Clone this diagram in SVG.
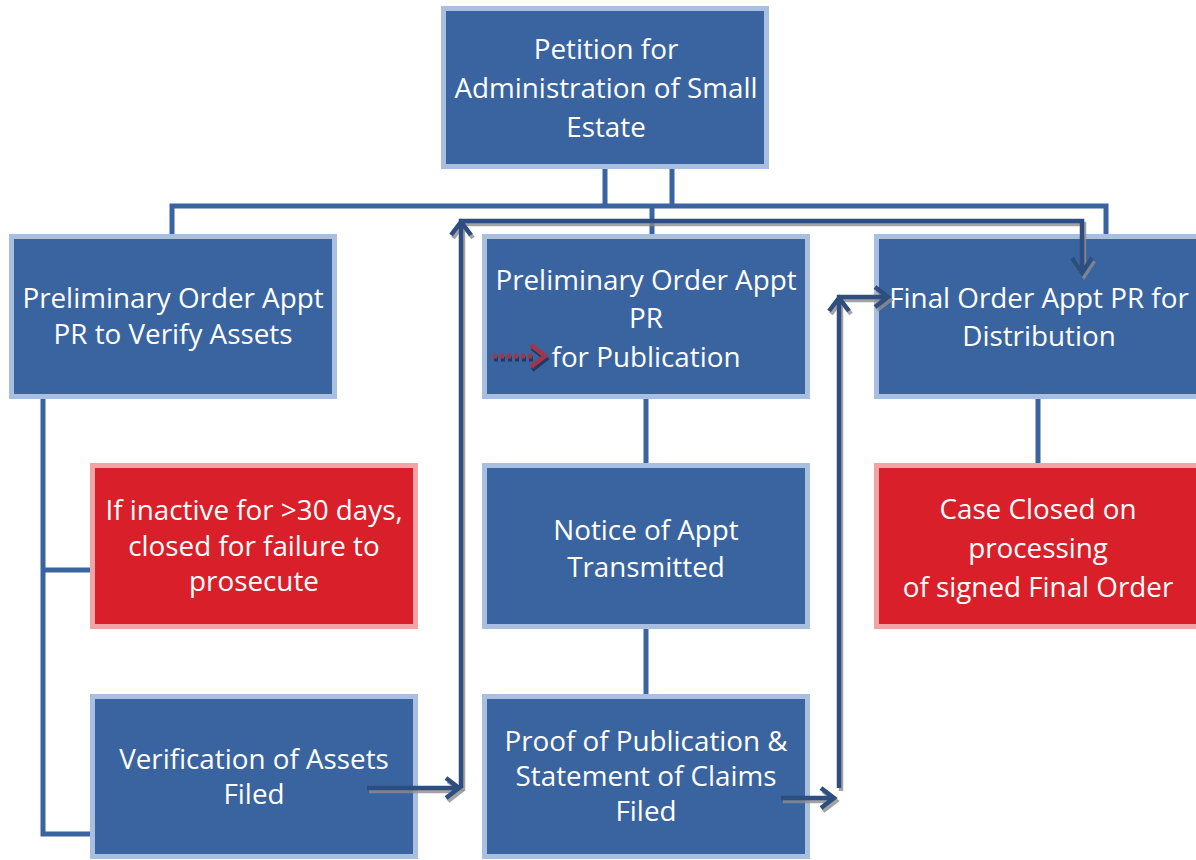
<svg xmlns="http://www.w3.org/2000/svg" width="1196" height="860" viewBox="0 0 1196 860">
<defs>
<style>
.b{fill:#3A64A0;stroke:#A8BFE0;stroke-width:5}
.r{fill:#D91F2A;stroke:#F2A3A6;stroke-width:5}
.t{font-family:"Open Sans",Lato,"Liberation Sans",sans-serif;font-size:27.8px;fill:#fff;text-anchor:middle}
.c{fill:none;stroke:#3A64A0;stroke-width:5}
.a{fill:none;stroke:#2E4E80;stroke-width:4.5}
.s{fill:none;stroke:#8C8C8C;stroke-width:4.5;opacity:0.8}
</style>
</defs>
<rect width="1196" height="860" fill="#fff"/>
<g id="connectors">
<path class="c" d="M605 168V206M672 168V206M172 234V206H1106V234M652 206V234"/>
<path class="c" d="M43 399V834H90M43 570H90"/>
<path class="c" d="M646 399V463M646 629V694M1038 399V463"/>
</g>
<g id="n1"><rect class="b" x="443.5" y="8.5" width="323" height="158"/>
<text class="t" x="606" y="59">Petition for</text><text class="t" x="606" y="98">Administration of Small</text><text class="t" x="606" y="137">Estate</text></g>
<g id="n2"><rect class="b" x="11.5" y="236.5" width="323" height="160"/>
<text class="t" x="173" y="308">Preliminary Order Appt</text><text class="t" x="173" y="344">PR to Verify Assets</text></g>
<g id="n3"><rect class="b" x="484.5" y="236.5" width="323" height="160"/>
<text class="t" x="646" y="290">Preliminary Order Appt</text><text class="t" x="646" y="328">PR</text><text class="t" x="646" y="367">for Publication</text>
<path d="M493 356H533" stroke="#1F3A66" stroke-width="5" stroke-dasharray="4 3" transform="translate(1,3)"/>
<path d="M493 356H533" stroke="#A33548" stroke-width="5" stroke-dasharray="4 3"/>
<path d="M531 345L545 356L531 367" fill="none" stroke="#1F3A66" stroke-width="4.5" transform="translate(1,3)"/>
<path d="M531 345L545 356L531 367" fill="none" stroke="#A33548" stroke-width="4.5"/></g>
<g id="n4"><rect class="b" x="876.5" y="236.5" width="325" height="160"/>
<text class="t" x="1039" y="308">Final Order Appt PR for</text><text class="t" x="1039" y="346">Distribution</text></g>
<g id="n5"><rect class="r" x="92.5" y="465.5" width="323" height="161"/>
<text class="t" x="254" y="520">If inactive for &gt;30 days,</text><text class="t" x="254" y="556">closed for failure to</text><text class="t" x="254" y="591">prosecute</text></g>
<g id="n6"><rect class="b" x="484.5" y="465.5" width="323" height="161"/>
<text class="t" x="646" y="540">Notice of Appt</text><text class="t" x="646" y="577">Transmitted</text></g>
<g id="n7"><rect class="r" x="876.5" y="465.5" width="325" height="161"/>
<text class="t" x="1038" y="519">Case Closed on</text><text class="t" x="1038" y="558">processing</text><text class="t" x="1038" y="597">of signed Final Order</text></g>
<g id="n8"><rect class="b" x="92.5" y="696.5" width="323" height="160"/>
<text class="t" x="254" y="769">Verification of Assets</text><text class="t" x="254" y="804">Filed</text></g>
<g id="n9"><rect class="b" x="484.5" y="696.5" width="323" height="160"/>
<text class="t" x="646" y="751">Proof of Publication &amp;</text><text class="t" x="646" y="786">Statement of Claims</text><text class="t" x="646" y="821">Filed</text></g>
<g id="arrows">
<g transform="translate(2,3)">
<path class="s" d="M367 788H459M446 778L459 788L446 798"/>
<path class="s" d="M461 788V221H1082V273M451 235L461 222L471 235M1072 258L1082 273L1092 258"/>
<path class="s" d="M781 798H834M821 788L834 798L821 808"/>
<path class="s" d="M839 788V297H888M829 311L839 298L849 311M875 287L888 297L875 307"/>
</g>
<path class="a" d="M367 788H459M446 778L459 788L446 798"/>
<path class="a" d="M461 788V221H1082V273M451 235L461 222L471 235M1072 258L1082 273L1092 258"/>
<path class="a" d="M781 798H834M821 788L834 798L821 808"/>
<path class="a" d="M839 788V297H888M829 311L839 298L849 311M875 287L888 297L875 307"/>
</g>
</svg>
